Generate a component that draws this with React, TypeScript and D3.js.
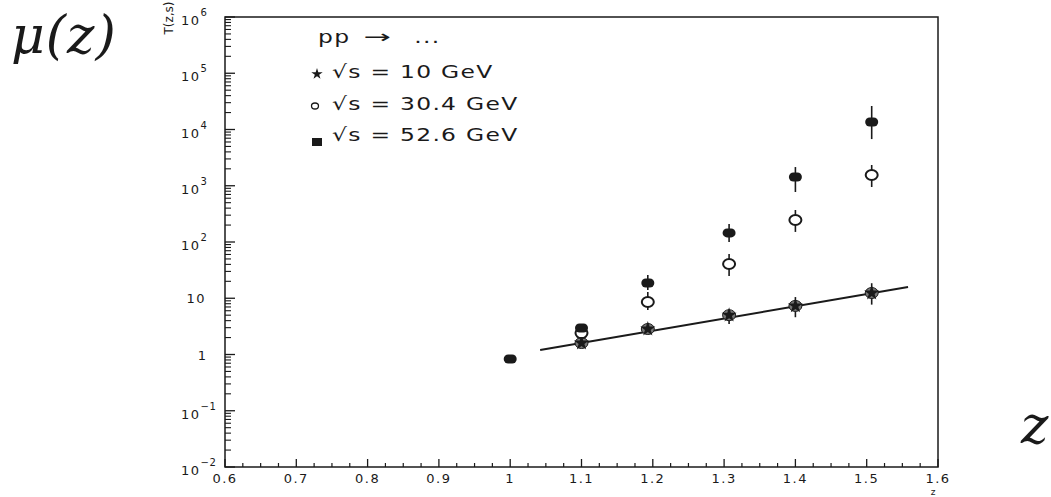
import React from "react";
import * as d3 from "d3";

const zTicks = [0.6, 0.7, 0.8, 0.9, 1.0, 1.1, 1.2, 1.3, 1.4, 1.5, 1.6];
const zTickLabels = ["0.6", "0.7", "0.8", "0.9", "1", "1.1", "1.2", "1.3", "1.4", "1.5", "1.6"];
const yDecades = [-2, -1, 0, 1, 2, 3, 4, 5, 6];

// sqrt(s) = 10 GeV (stars)
const z10 = [1.1, 1.193, 1.307, 1.4, 1.507];
const t10 = [1.6, 2.84, 5.0, 7.3, 12.4];
const t10Lo = [1.45, 2.35, 3.5, 4.6, 7.7];
const t10Hi = [1.75, 3.3, 6.2, 10.5, 18.5];

// sqrt(s) = 30.4 GeV (open circles)
const z30 = [1.1, 1.193, 1.307, 1.4, 1.507];
const t30 = [2.4, 8.6, 40.6, 246, 1550];
const t30Lo = [2.2, 6.2, 24.9, 151, 950];
const t30Hi = [2.6, 12.9, 61, 371, 2340];

// sqrt(s) = 52.6 GeV (filled)
const z52 = [1.0, 1.1, 1.193, 1.307, 1.4, 1.507];
const t52 = [0.83, 2.96, 18.7, 145, 1430, 13600];
const t52Lo = [0.8, 2.8, 14, 100, 775, 6760];
const t52Hi = [0.86, 3.2, 25.9, 209, 2150, 26200];

// fitted line through the 10 GeV points
const fitZ = [1.042, 1.558];
const fitT = [1.2, 15.8];

const legendLabels = ["√s = 10 GeV", "√s = 30.4 GeV", "√s = 52.6 GeV"];

const INK = "#1a1a1a";

export default function App() {
  const W = 1051, H = 497;
  const left = 225, right = 938, top = 17, bottom = 467;
  const x = d3.scaleLinear().domain([0.6, 1.6]).range([left, right]);
  const y = d3.scaleLog().domain([1e-2, 1e6]).range([bottom, top]);

  const font = "'DejaVu Sans', sans-serif";
  const serif = "'DejaVu Serif', serif";

  const minorX = d3.range(0.6, 1.6001, 0.025).filter((v) => Math.abs(v * 10 - Math.round(v * 10)) > 1e-6);
  const minorY: number[] = [];
  for (let d = -2; d < 6; d++) for (let k = 2; k <= 9; k++) minorY.push(k * Math.pow(10, d));

  const line = d3.line<number>().x((_, i) => x(fitZ[i])).y((_, i) => y(fitT[i]));
  const star = d3.symbol().type(d3.symbolStar).size(70)();

  const errBar = (zx: number, lo: number, hi: number, key: string) => (
    <line key={key} x1={x(zx)} x2={x(zx)} y1={y(lo)} y2={y(hi)} stroke={INK} strokeWidth={1.6} />
  );

  return (
    <svg width={W} height={H} style={{ position: "absolute", left: 0, top: 0, background: "#fff" }}>
      <rect width={W} height={H} fill="#fff" />
      {/* big labels */}
      <text x={11} y={53} fontFamily={serif} fontStyle="italic" fontSize={52} letterSpacing={1} fill={INK}>
        μ(z)
      </text>
      <text x={1021} y={443} fontFamily={serif} fontStyle="italic" fontSize={52} fill={INK}>
        z
      </text>

      {/* frame */}
      <rect x={left} y={top} width={right - left} height={bottom - top} fill="none" stroke={INK} strokeWidth={1.5} />

      {/* x ticks */}
      {zTicks.map((v, i) => (
        <g key={"xt" + i}>
          <line x1={x(v)} x2={x(v)} y1={bottom} y2={bottom - 8} stroke={INK} strokeWidth={1.3} />
          <text x={x(v)} y={483} textAnchor="middle" fontFamily={font} fontSize={13} letterSpacing={1.5} fill={INK}>
            {zTickLabels[i]}
          </text>
        </g>
      ))}
      {minorX.map((v, i) => (
        <line key={"xm" + i} x1={x(v)} x2={x(v)} y1={bottom} y2={bottom - 4} stroke={INK} strokeWidth={1.2} />
      ))}
      <text x={933} y={495} textAnchor="middle" fontFamily={font} fontSize={9} fill={INK}>z</text>

      {/* y ticks */}
      {yDecades.map((d) => (
        <line key={"yt" + d} x1={left} x2={left + 10} y1={y(Math.pow(10, d))} y2={y(Math.pow(10, d))} stroke={INK} strokeWidth={1.3} />
      ))}
      {minorY.map((v, i) => (
        <line key={"ym" + i} x1={left} x2={left + 6} y1={y(v)} y2={y(v)} stroke={INK} strokeWidth={1.1} />
      ))}
      {yDecades.map((d) => {
        const yy = y(Math.pow(10, d));
        if (d === 0)
          return (
            <text key={"yl" + d} x={206} y={yy + 5} textAnchor="end" fontFamily={font} fontSize={13} fill={INK}>1</text>
          );
        if (d === 1)
          return (
            <text key={"yl" + d} x={206} y={yy + 5} textAnchor="end" fontFamily={font} fontSize={13} letterSpacing={1.5} fill={INK}>10</text>
          );
        return (
          <text key={"yl" + d} x={181} y={yy + 8} fontFamily={font} fontSize={13} letterSpacing={1.5} fill={INK}>
            10
            <tspan dy={-9} fontSize={10} letterSpacing={0.5}>{d < 0 ? "−" + -d : String(d)}</tspan>
          </text>
        );
      })}
      <text transform={`translate(173,18) rotate(-90)`} textAnchor="middle" fontFamily={font} fontSize={12} fill={INK}>
        T(z,s)
      </text>

      {/* fit line */}
      <path d={line(fitZ) || ""} fill="none" stroke={INK} strokeWidth={2} />

      {/* 10 GeV */}
      {z10.map((v, i) => errBar(v, t10Lo[i], t10Hi[i], "e10" + i))}
      {z10.map((v, i) => (
        <g key={"p10" + i} transform={`translate(${x(v)},${y(t10[i])})`}>
          <ellipse rx={6.5} ry={5.5} fill="#777" stroke={INK} strokeWidth={1} />
          <path d={star || ""} fill={INK} />
        </g>
      ))}

      {/* 30.4 GeV */}
      {z30.map((v, i) => errBar(v, t30Lo[i], t30Hi[i], "e30" + i))}
      {z30.map((v, i) => (
        <ellipse key={"p30" + i} cx={x(v)} cy={y(t30[i])} rx={6} ry={5} fill="#fff" stroke={INK} strokeWidth={2} />
      ))}

      {/* 52.6 GeV */}
      {z52.map((v, i) => errBar(v, t52Lo[i], t52Hi[i], "e52" + i))}
      {z52.map((v, i) => (
        <rect key={"p52" + i} x={x(v) - 6.5} y={y(t52[i]) - 4.5} width={13} height={9} rx={4.5} fill={INK} />
      ))}

      {/* legend */}
      <g transform="translate(318,43) scale(1.3,1)" fontFamily={font} fontSize={18} fill={INK}>
        <text x={0} y={0} letterSpacing={1}>pp</text>
        <text x={0} y={0} transform="translate(35,0) scale(1.4,1)">→</text>
        <text x={74} y={0} letterSpacing={1}>...</text>
      </g>
      <path d={d3.symbol().type(d3.symbolStar).size(40)() || ""} transform="translate(317,74)" fill={INK} />
      <ellipse cx={315} cy={106} rx={3.5} ry={3} fill="#fff" stroke={INK} strokeWidth={1.3} />
      <rect x={312} y={138} width={10} height={8} fill={INK} />
      {legendLabels.map((t, i) => (
        <text key={"lg" + i} transform={`translate(332,${78 + i * 31.5}) scale(1.3,1)`} fontFamily={font} fontSize={18}
          letterSpacing={1} fill={INK}>
          {t}
        </text>
      ))}
    </svg>
  );
}
